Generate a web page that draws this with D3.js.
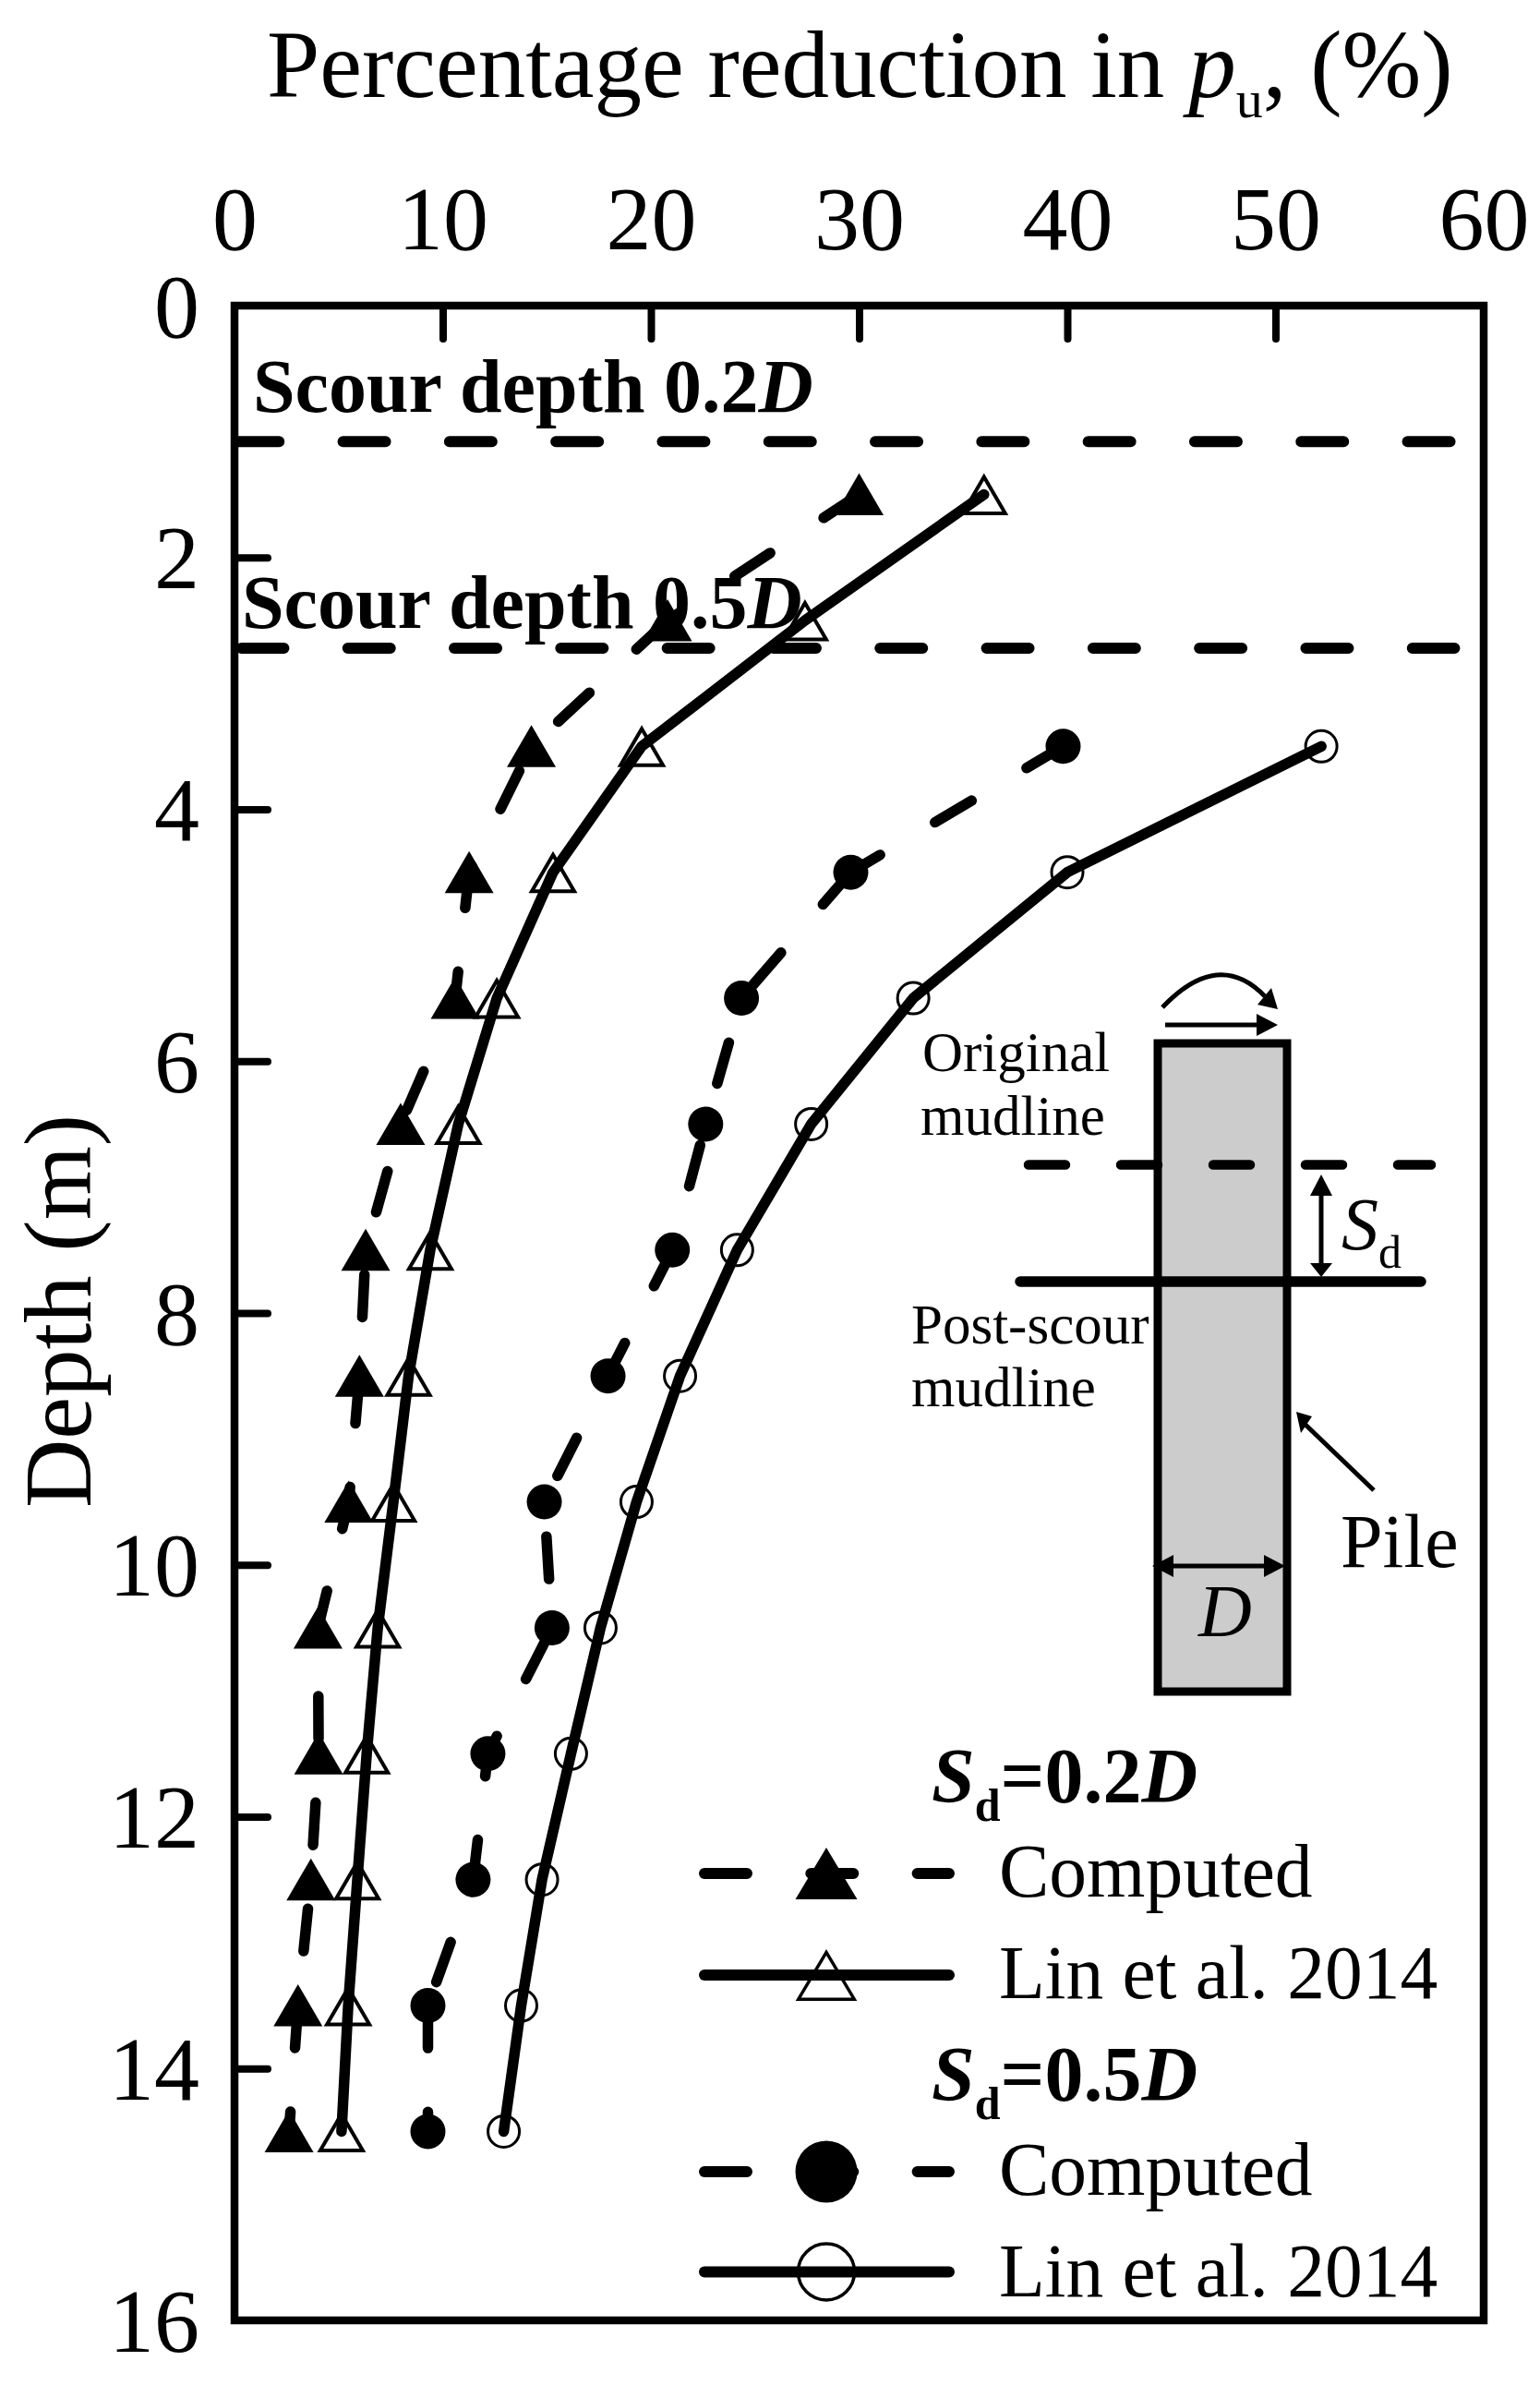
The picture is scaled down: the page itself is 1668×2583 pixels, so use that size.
<!DOCTYPE html>
<html>
<head>
<meta charset="utf-8">
<script src="https://cdn.jsdelivr.net/npm/d3@7"></script>
<style>
  html, body { margin: 0; padding: 0; background: #fff; }
  svg { display: block; }
  text { font-family: "Liberation Serif", serif; fill: #000; }
</style>
</head>
<body>
<script>
const depths = [1.5, 2.5, 3.5, 4.5, 5.5, 6.5, 7.5, 8.5, 9.5, 10.5, 11.5, 12.5, 13.5, 14.5];
const depths2 = [3.5, 4.5, 5.5, 6.5, 7.5, 8.5, 9.5, 10.5, 11.5, 12.5, 13.5, 14.5];

const computed02 = [30.0, 20.8, 14.26, 11.27, 10.6, 7.98, 6.3, 6.0, 5.49, 4.01, 4.04, 3.67, 3.05, 2.62];
const lin02 = [36.0, 27.4, 19.56, 15.3, 12.6, 10.75, 9.4, 8.36, 7.63, 6.88, 6.35, 5.9, 5.46, 5.14];
const computed05 = [39.8, 29.6, 24.35, 22.63, 21.03, 17.94, 14.88, 15.25, 12.17, 11.46, 9.29, 9.29];
const lin05 = [52.2, 40.0, 32.6, 27.7, 24.14, 21.4, 19.31, 17.58, 16.16, 14.77, 13.77, 12.93];

const xTicks = [0, 10, 20, 30, 40, 50, 60];
const yTicks = [0, 2, 4, 6, 8, 10, 12, 14, 16];
const scourDepths = [1.08, 2.72];

const svg = d3.select("body").append("svg")
    .attr("width", 1668)
    .attr("height", 2583);

const xScale = d3.scaleLinear().domain([0, 60]).range([254, 1607]);
const yScale = d3.scaleLinear().domain([0, 16]).range([331, 2513]);

const DASH = "46,69.3";

// axes
const xAxis = svg.append("g")
    .attr("transform", "translate(0," + yScale(0) + ")")
    .call(d3.axisTop(xScale).tickValues(xTicks).tickSizeInner(-36).tickSizeOuter(0).tickPadding(61));
const yAxis = svg.append("g")
    .attr("transform", "translate(" + xScale(0) + ",0)")
    .call(d3.axisLeft(yScale).tickValues(yTicks).tickSizeInner(-36).tickSizeOuter(0).tickPadding(38));

for (const axis of [xAxis, yAxis]) {
    axis.select(".domain").remove();
    axis.selectAll("line").attr("stroke", "#000").attr("stroke-width", 8).attr("stroke-linecap", "round");
    axis.selectAll("text").attr("font-size", 98).attr("font-family", "Liberation Serif").attr("fill", "#000");
}
xAxis.selectAll(".tick").filter(d => d === 0 || d === 60).select("line").remove();
yAxis.selectAll(".tick").filter(d => d === 0 || d === 16).select("line").remove();
yAxis.selectAll("text").attr("dy", 33);

// frame
svg.append("rect")
    .attr("x", xScale(0)).attr("y", yScale(0))
    .attr("width", xScale(60) - xScale(0)).attr("height", yScale(16) - yScale(0))
    .attr("fill", "none").attr("stroke", "#000").attr("stroke-width", 8.5);

// scour lines
svg.selectAll(".scour").data(scourDepths).join("line")
    .attr("class", "scour")
    .attr("x1", (d, i) => i === 0 ? xScale(0.1) : xScale(0.33))
    .attr("x2", (d, i) => i === 0 ? xScale(58.5) : xScale(58.6))
    .attr("y1", d => yScale(d)).attr("y2", d => yScale(d))
    .attr("stroke", "#000").attr("stroke-width", 12)
    .attr("stroke-linecap", "round").attr("stroke-dasharray", DASH);

function triangle(cx, cy, w, up, down) {
    const p = d3.path();
    p.moveTo(cx, cy - up);
    p.lineTo(cx + w / 2, cy + down);
    p.lineTo(cx - w / 2, cy + down);
    p.closePath();
    return p.toString();
}

const line = d3.line().x(d => xScale(d[0])).y(d => yScale(d[1]));

function drawMarkers(pts, kind) {
    const g = svg.append("g");
    if (kind === "tri") {
        g.selectAll("path").data(pts).join("path")
            .attr("d", d => triangle(xScale(d[0]), yScale(d[1]), 53, 23, 22.5))
            .attr("fill", "#000");
    } else if (kind === "triOpen") {
        g.selectAll("path").data(pts).join("path")
            .attr("d", d => triangle(xScale(d[0]), yScale(d[1]), 46, 19, 20.5))
            .attr("fill", "#fff")
            .attr("stroke", "#000")
            .attr("stroke-width", 4);
    } else {
        g.selectAll("circle").data(pts).join("circle")
            .attr("cx", d => xScale(d[0])).attr("cy", d => yScale(d[1]))
            .attr("r", kind === "dot" ? 19 : 17)
            .attr("fill", kind === "dot" ? "#000" : "none")
            .attr("stroke", "#000")
            .attr("stroke-width", kind === "dot" ? 0 : 3);
    }
}

function drawLine(pts, dashed) {
    svg.append("path").datum(pts)
        .attr("d", line)
        .attr("fill", "none").attr("stroke", "#000").attr("stroke-width", 11.5)
        .attr("stroke-linecap", "round").attr("stroke-linejoin", "round")
        .attr("stroke-dasharray", dashed ? DASH : null);
}

const seriesList = [
    { values: computed02, ys: depths, kind: "tri", dashed: true, restarts: [1, 12] },
    { values: lin02, ys: depths, kind: "triOpen", dashed: false, restarts: [] },
    { values: computed05, ys: depths2, kind: "dot", dashed: true, restarts: [1, 10] },
    { values: lin05, ys: depths2, kind: "circleOpen", dashed: false, restarts: [] }
];
for (const s of seriesList) {
    const pts = s.values.map((v, i) => [v, s.ys[i]]);
    drawMarkers(pts, s.kind);
    // the dash pattern starts over at some points, so these lines are drawn in pieces
    const cuts = [0, ...s.restarts, pts.length - 1];
    for (let i = 0; i < cuts.length - 1; i++) {
        drawLine(pts.slice(cuts[i], cuts[i + 1] + 1), s.dashed);
    }
}

// text helper: parts are [string, {italic, bold, size, dy}]
function label(x, y, size, parts, bold) {
    const t = svg.append("text").attr("x", x).attr("y", y).attr("font-size", size)
        .attr("font-weight", bold ? "bold" : "normal");
    for (const p of parts) {
        const o = p[1] || {};
        const sp = t.append("tspan").text(p[0]);
        if (o.italic) sp.attr("font-style", "italic");
        if (o.size) sp.attr("font-size", o.size);
        if (o.dy) sp.attr("dy", o.dy);
    }
    return t;
}

label(289, 105, 103, [["Percentage reduction in "], ["p", { italic: true }], ["u", { size: 58, dy: 22 }], [", (%)", { dy: -22 }]]);
label(98, 0, 103, [["Depth (m)"]]).attr("x", 0).attr("y", 0).attr("text-anchor", "middle")
    .attr("transform", "translate(98,1420) rotate(-90)");

label(274, 446, 82, [["Scour depth 0.2"], ["D", { italic: true }]], true);
label(262, 680, 82, [["Scour depth 0.5"], ["D", { italic: true }]], true);

// legend
const legendHead = [["0.2", 1009, 1952], ["0.5", 1009, 2275]];
for (const h of legendHead) {
    label(h[1], h[2], 84, [["S", { italic: true }], ["d", { size: 50, dy: 20 }], ["=" + h[0], { dy: -20 }], ["D", { italic: true }]], true);
}
const legendRows = [
    { y: 2029, base: 2054, name: "Computed", kind: "tri", dashed: true },
    { y: 2139, base: 2164, name: "Lin et al. 2014", kind: "triOpen", dashed: false },
    { y: 2352, base: 2377, name: "Computed", kind: "dot", dashed: true },
    { y: 2460.5, base: 2487, name: "Lin et al. 2014", kind: "circleOpen", dashed: false }
];
for (const r of legendRows) {
    if (r.kind === "tri") {
        svg.append("path").attr("d", triangle(895, r.y, 67, 28, 28)).attr("fill", "#000");
    } else if (r.kind === "triOpen") {
        svg.append("path").attr("d", triangle(895, r.y, 60.5, 24.6, 26.2))
            .attr("fill", "#fff").attr("stroke", "#000").attr("stroke-width", 3.5);
    } else {
        svg.append("circle").attr("cx", 895).attr("cy", r.y).attr("r", r.kind === "dot" ? 33.5 : 30.5)
            .attr("fill", r.kind === "dot" ? "#000" : "#fff").attr("stroke", "#000")
            .attr("stroke-width", r.kind === "dot" ? 0 : 3.5);
    }
    svg.append("line").attr("x1", 763).attr("x2", 1028).attr("y1", r.y).attr("y2", r.y)
        .attr("stroke", "#000").attr("stroke-width", 12).attr("stroke-linecap", "round")
        .attr("stroke-dasharray", r.dashed ? DASH : null);
    label(1082, r.base, 81.5, [[r.name]]);
}

// inset sketch of the pile
svg.append("rect").attr("x", 1254).attr("y", 1130).attr("width", 140).attr("height", 702)
    .attr("fill", "#ccc").attr("stroke", "#000").attr("stroke-width", 9);
svg.append("line").attr("x1", 1114).attr("x2", 1550).attr("y1", 1261.5).attr("y2", 1261.5)
    .attr("stroke", "#000").attr("stroke-width", 10.5).attr("stroke-linecap", "round")
    .attr("stroke-dasharray", "40,60");
svg.append("line").attr("x1", 1105).attr("x2", 1539).attr("y1", 1388).attr("y2", 1388)
    .attr("stroke", "#000").attr("stroke-width", 11.5).attr("stroke-linecap", "round");

function thinLine(x1, y1, x2, y2) {
    svg.append("line").attr("x1", x1).attr("y1", y1).attr("x2", x2).attr("y2", y2)
        .attr("stroke", "#000").attr("stroke-width", 5);
}
function head(points) {
    svg.append("polygon").attr("points", points.join(" ")).attr("fill", "#000");
}
// Sd arrow
thinLine(1431, 1285, 1431, 1372);
head(["1431,1272", "1443,1295", "1419,1295"]);
head(["1431,1383", "1443,1368", "1419,1368"]);
// D arrow
thinLine(1262, 1696, 1378, 1696);
head(["1248,1696", "1271,1684", "1271,1708"]);
head(["1392,1696", "1369,1684", "1369,1708"]);
// load arrow on pile head
thinLine(1262, 1110, 1370, 1110);
head(["1384,1110", "1361,1098", "1361,1122"]);
// moment arrow
svg.append("path").attr("d", "M1259,1091 Q1320,1027 1370,1079")
    .attr("fill", "none").attr("stroke", "#000").attr("stroke-width", 5);
head(["1384,1093", "1377,1070", "1362,1088"]);
// pile pointer
thinLine(1488, 1614, 1414, 1543);
head(["1404,1529", "1421,1534", "1409,1552"]);

label(999, 1160, 61, [["Original"]]);
label(997, 1229, 61, [["mudline"]]);
label(987, 1455, 61, [["Post-scour"]]);
label(987, 1523, 61, [["mudline"]]);
label(1452, 1697, 82, [["Pile"]]);
label(1298, 1772, 80, [["D", { italic: true }]]);
label(1453, 1353, 80, [["S", { italic: true }], ["d", { size: 50, dy: 20 }]]);
</script>
</body>
</html>
